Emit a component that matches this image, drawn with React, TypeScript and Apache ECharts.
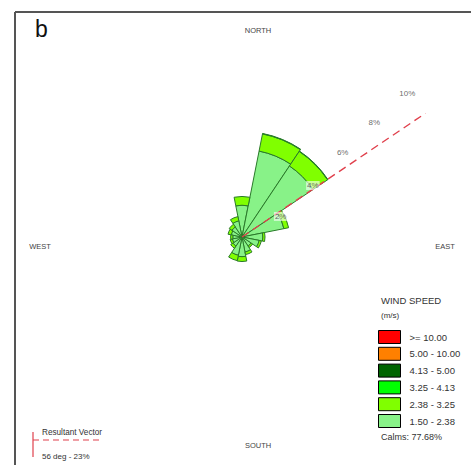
import React, { useEffect, useRef } from "react";
import * as echarts from "echarts";

const directions = ["N", "NNE", "NE", "ENE", "E", "ESE", "SE", "SSE", "S", "SSW", "SW", "WSW", "W", "WNW", "NW", "NNW"];
const speedClasses = ["1.50 - 2.38", "2.38 - 3.25", "3.25 - 4.13", "4.13 - 5.00", "5.00 - 10.00", ">= 10.00"];
const classColors = ["#88f288", "#80ff00", "#00ff00", "#006400", "#ff8000", "#ff0000"];
// frequency (%) per direction for each speed class
const s150_238 = [1.45, 4.0, 3.9, 1.95, 0.95, 0.8, 0.5, 0.7, 0.9, 0.85, 0.5, 0.45, 0.42, 0.5, 0.55, 0.75];
const s238_325 = [0.4, 0.8, 0.8, 0.22, 0.1, 0.1, 0.08, 0.12, 0.22, 0.25, 0.12, 0.1, 0.1, 0.15, 0.15, 0.2];
const s325_413 = [0, 0.02, 0.02, 0, 0, 0, 0, 0, 0, 0, 0, 0, 0, 0, 0, 0];
const s413_500 = [0, 0, 0, 0, 0, 0, 0, 0, 0, 0, 0, 0, 0, 0, 0, 0];
const s500_1000 = [0, 0, 0, 0, 0, 0, 0, 0, 0, 0, 0, 0, 0, 0, 0, 0];
const s1000 = [0, 0, 0, 0, 0, 0, 0, 0, 0, 0, 0, 0, 0, 0, 0, 0];
const classData = [s150_238, s238_325, s325_413, s413_500, s500_1000, s1000];

const ringValues = [2, 4, 6, 8, 10];
const ringAngles = [62, 54, 50, 49, 49];
const ringLabels = ["2%", "4%", "6%", "8%", "10%"];

const resultantAngle = 56;
const resultantDrawnLength = 10.1;
const calms = "Calms: 77.68%";
const resultantText = "56 deg - 23%";

const FONT = "'Liberation Sans', Arial, sans-serif";

export default function App() {
  const ref = useRef<HTMLDivElement>(null);
  useEffect(() => {
    if (!ref.current) return;
    const chart = echarts.init(ref.current, null, { renderer: "svg" });
    const barSeries = speedClasses.map((name, i) => ({
      name,
      type: "bar",
      coordinateSystem: "polar",
      polarIndex: 0,
      stack: "speed",
      barCategoryGap: "0%",
      data: classData[i].map((v) => (v > 0 ? v : null)),
      itemStyle: { color: classColors[i], borderColor: "#2a7a2a", borderWidth: 1 },
      silent: true,
    }));
    const option: any = {
      animation: false,
      backgroundColor: "#ffffff",
      polar: [
        { center: [242, 237], radius: 230 },
        { center: [242, 237], radius: 230 },
      ],
      angleAxis: [
        { polarIndex: 0, type: "category", data: directions, startAngle: 90 + 11.25, clockwise: true, show: false },
        { polarIndex: 1, type: "value", min: 0, max: 360, startAngle: 90, clockwise: true, show: false },
      ],
      radiusAxis: [
        { polarIndex: 0, type: "value", min: 0, max: 10.5, show: false },
        { polarIndex: 1, type: "value", min: 0, max: 10.5, show: false },
      ],
      legend: {
        data: [...speedClasses].reverse(),
        orient: "vertical",
        left: 378,
        top: 330,
        padding: 0,
        itemWidth: 22,
        itemHeight: 13,
        itemGap: 2.8,
        icon: "rect",
        selectedMode: false,
        itemStyle: { borderColor: "#000", borderWidth: 1 },
        textStyle: { fontSize: 9.5, color: "#333", fontFamily: FONT, padding: [0, 0, 0, 4] },
      },
      series: [
        ...barSeries,
        {
          type: "line",
          coordinateSystem: "polar",
          polarIndex: 1,
          symbol: "none",
          silent: true,
          data: [
            [0, resultantAngle],
            [resultantDrawnLength, resultantAngle],
          ],
          lineStyle: { color: "#e0404c", width: 1.4, type: [8, 5] },
          z: 5,
        },
        {
          type: "scatter",
          coordinateSystem: "polar",
          polarIndex: 1,
          symbolSize: 1,
          itemStyle: { color: "rgba(0,0,0,0)" },
          silent: true,
          zlevel: 1,
          z: 10,
          data: ringValues.map((r, i) => [r, ringAngles[i]]),
          label: {
            show: true,
            position: "inside",
            fontSize: 8,
            color: "#444",
            fontFamily: FONT,
            backgroundColor: "rgba(255,255,255,0.75)",
            padding: [1, 1, 0, 1],
            formatter: (p: any) => ringLabels[p.dataIndex],
          },
          labelLayout: { hideOverlap: false },
        },
      ],
      graphic: [
        { type: "line", shape: { x1: 15, y1: 12, x2: 471, y2: 12 }, style: { stroke: "#555", lineWidth: 2 } },
        { type: "line", shape: { x1: 15, y1: 12, x2: 15, y2: 465 }, style: { stroke: "#555", lineWidth: 2 } },
        { type: "text", left: 35, top: 17, style: { text: "b", fontSize: 23, fill: "#111", fontFamily: FONT } },
        { type: "text", x: 258, y: 30, style: { text: "NORTH", fontSize: 7.5, fill: "#444", fontFamily: FONT, align: "center", verticalAlign: "middle" } },
        { type: "text", x: 258, y: 445, style: { text: "SOUTH", fontSize: 7.5, fill: "#444", fontFamily: FONT, align: "center", verticalAlign: "middle" } },
        { type: "text", x: 40, y: 246, style: { text: "WEST", fontSize: 7.5, fill: "#444", fontFamily: FONT, align: "center", verticalAlign: "middle" } },
        { type: "text", x: 445, y: 246, style: { text: "EAST", fontSize: 7.5, fill: "#444", fontFamily: FONT, align: "center", verticalAlign: "middle" } },
        { type: "text", x: 381, y: 300, style: { text: "WIND SPEED", fontSize: 9.5, fill: "#333", fontFamily: FONT, verticalAlign: "middle" } },
        { type: "text", x: 381, y: 315, style: { text: "(m/s)", fontSize: 8, fill: "#333", fontFamily: FONT, verticalAlign: "middle" } },
        { type: "text", x: 381, y: 437, style: { text: calms, fontSize: 9, fill: "#333", fontFamily: FONT, verticalAlign: "middle" } },
        { type: "line", shape: { x1: 33, y1: 432, x2: 33, y2: 457 }, style: { stroke: "#e0404c", lineWidth: 1.2 } },
        { type: "line", shape: { x1: 33, y1: 440, x2: 103, y2: 440 }, style: { stroke: "#e0404c", lineWidth: 1.2, lineDash: [6, 4] } },
        { type: "text", x: 42, y: 432, style: { text: "Resultant Vector", fontSize: 8.2, fill: "#333", fontFamily: FONT, verticalAlign: "middle" } },
        { type: "text", x: 42, y: 456, style: { text: resultantText, fontSize: 8, fill: "#333", fontFamily: FONT, verticalAlign: "middle" } },
      ],
    };
    chart.setOption(option);
    return () => chart.dispose();
  }, []);
  return (
    <div
      ref={ref}
      style={{ position: "absolute", left: 0, top: 0, width: 471, height: 465, background: "#fff" }}
    />
  );
}
